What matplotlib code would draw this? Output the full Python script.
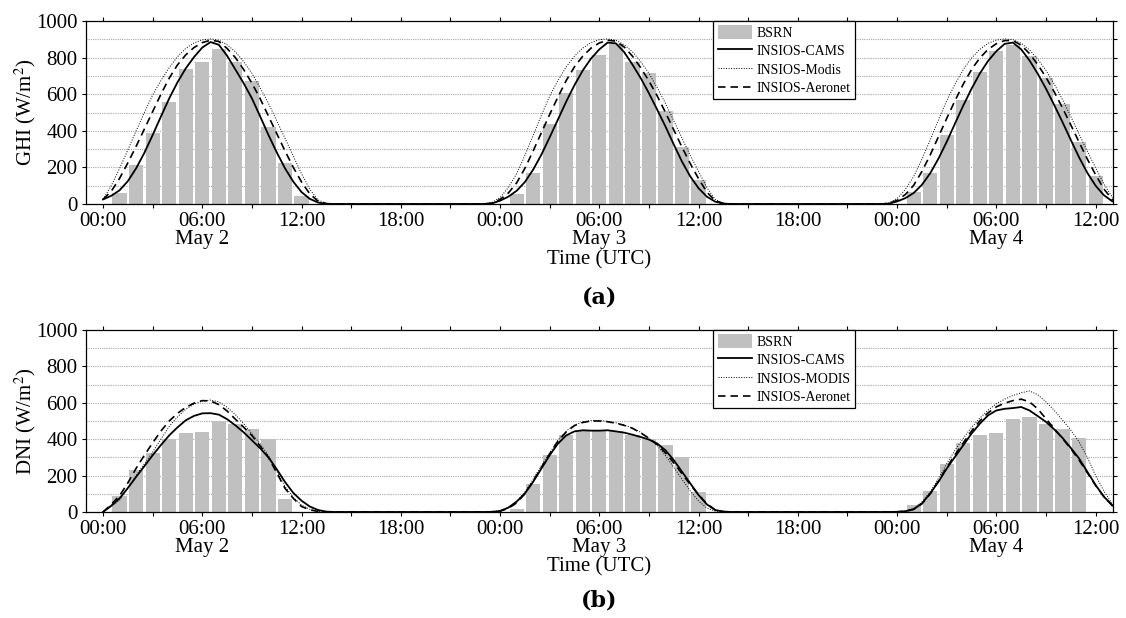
import numpy as np
import matplotlib
matplotlib.use("Agg")
import matplotlib.pyplot as plt
from matplotlib.ticker import MultipleLocator

plt.rcParams['font.family'] = ['Liberation Serif', 'DejaVu Serif']
plt.rcParams['mathtext.fontset'] = 'stix'

# ---------------- data ----------------
DAYS = ["May 2", "May 3", "May 4"]
HALF_HOURS = np.arange(-1.0, 14.01, 0.5)   # sampling times within each day (h)
nan = np.nan

# GHI model curves (W/m2), one list per day, sampled at HALF_HOURS
ghi_cams_d1 = [nan, nan, 25, 45, 75, 125, 195, 280, 377, 478, 577, 665, 741, 803, 855, 885, 870, 810, 735, 660, 577, 478, 377, 282, 195, 122, 65, 28, 8, 1, 0]
ghi_cams_d2 = [0, 3, 18, 40, 72, 120, 188, 270, 365, 462, 560, 650, 730, 795, 845, 882, 878, 830, 762, 688, 605, 515, 423, 325, 231, 150, 86, 40, 13, 2, 0]
ghi_cams_d3 = [0, 2, 14, 32, 60, 105, 168, 248, 340, 440, 538, 630, 713, 782, 835, 875, 882, 845, 785, 712, 630, 540, 447, 350, 255, 170, 100, 48, 15, 3, 0]

ghi_modis_d1 = [nan, nan, 25, 100, 195, 295, 400, 500, 596, 675, 745, 805, 850, 880, 897, 902, 895, 870, 832, 778, 714, 635, 550, 455, 359, 262, 165, 80, 22, 3, 0]
ghi_modis_d2 = [0, 8, 35, 90, 165, 265, 375, 485, 590, 675, 750, 808, 852, 882, 898, 902, 895, 870, 832, 778, 714, 635, 550, 455, 359, 265, 177, 90, 25, 4, 0]
ghi_modis_d3 = [0, 6, 30, 80, 150, 245, 350, 460, 565, 655, 735, 798, 845, 878, 896, 902, 898, 878, 842, 792, 730, 655, 570, 478, 382, 288, 198, 110, 38, 6, 0]

ghi_aero_d1 = [nan, nan, 25, 70, 140, 225, 315, 410, 505, 600, 688, 760, 815, 855, 882, 895, 888, 850, 800, 735, 660, 575, 480, 385, 290, 200, 120, 55, 15, 2, 0]
ghi_aero_d2 = [0, 4, 25, 60, 115, 195, 290, 390, 490, 585, 675, 750, 808, 852, 880, 895, 890, 858, 808, 745, 672, 590, 500, 405, 310, 220, 138, 65, 18, 3, 0]
ghi_aero_d3 = [0, 3, 20, 52, 102, 178, 268, 368, 468, 565, 655, 735, 798, 845, 876, 893, 893, 868, 822, 762, 692, 612, 525, 432, 338, 245, 160, 82, 25, 4, 0]

# DNI model curves (W/m2)
dni_cams_d1 = [nan, nan, 0, 35, 75, 132, 193, 252, 312, 368, 421, 465, 504, 528, 542, 543, 535, 510, 476, 438, 394, 350, 300, 235, 165, 105, 62, 30, 11, 2, 0]
dni_cams_d2 = [0, 1, 5, 24, 57, 102, 166, 239, 312, 376, 421, 443, 449, 447, 447, 449, 443, 436, 425, 412, 398, 376, 339, 285, 221, 157, 93, 42, 11, 2, 0]
dni_cams_d3 = [0, 0, 1, 4, 15, 47, 102, 166, 239, 303, 367, 431, 485, 531, 558, 567, 571, 577, 558, 527, 495, 454, 407, 352, 294, 221, 148, 84, 38, 5, 0]

dni_modis_d1 = [nan, nan, 0, 30, 65, 130, 200, 265, 330, 400, 470, 522, 565, 592, 610, 615, 605, 575, 535, 485, 430, 375, 310, 225, 140, 80, 38, 15, 3, 0, 0]
dni_modis_d2 = [0, 2, 8, 25, 58, 110, 180, 255, 325, 395, 445, 478, 495, 503, 503, 498, 490, 478, 462, 438, 405, 365, 310, 245, 180, 115, 60, 22, 5, 1, 0]
dni_modis_d3 = [0, 1, 2, 5, 20, 55, 110, 185, 265, 340, 405, 465, 515, 560, 595, 620, 640, 655, 665, 645, 605, 558, 505, 450, 385, 300, 200, 115, 45, 8, 0]

dni_aero_d1 = [nan, nan, 0, 42, 90, 160, 240, 312, 380, 445, 500, 542, 575, 598, 612, 610, 590, 555, 510, 466, 420, 362, 300, 215, 130, 75, 30, 12, 3, 0, 0]
dni_aero_d2 = [0, 1, 5, 20, 50, 100, 170, 245, 320, 390, 440, 475, 492, 500, 500, 496, 488, 476, 460, 435, 405, 370, 325, 270, 210, 150, 95, 45, 12, 2, 0]
dni_aero_d3 = [0, 0, 1, 4, 15, 45, 100, 170, 245, 315, 380, 445, 500, 545, 578, 598, 612, 620, 605, 567, 512, 458, 403, 348, 285, 215, 145, 85, 35, 6, 0]

# BSRN hourly measurements (bars at 01:00, 02:00, ... of each day)
ghi_bsrn_d1 = [62, 211, 390, 559, 736, 776, 845, 776, 674, 421, 224, 44]
ghi_bsrn_d2 = [55, 168, 439, 607, 732, 814, 874, 778, 718, 510, 311, 133]
ghi_bsrn_d3 = [66, 169, 377, 568, 720, 834, 869, 811, 687, 545, 341, 151]

dni_bsrn_d1 = [86, 232, 323, 400, 432, 438, 502, 484, 454, 400, 73]
dni_bsrn_d2 = [16, 155, 314, 425, 443, 443, 447, 425, 403, 370, 301, 111]
dni_bsrn_d3 = [38, 115, 266, 378, 422, 432, 511, 520, 482, 454, 409]

LABELS_A = ["BSRN", "INSIOS-CAMS", "INSIOS-Modis", "INSIOS-Aeronet"]
LABELS_B = ["BSRN", "INSIOS-CAMS", "INSIOS-MODIS", "INSIOS-Aeronet"]
YLABELS = ["GHI (W/m$^2$)", "DNI (W/m$^2$)"]
PANEL_TAGS = ["(a)", "(b)"]
XLABEL = "Time (UTC)"


def series(day_lists):
    t = np.concatenate([24 * i + HALF_HOURS for i in range(len(day_lists))])
    v = np.concatenate([np.asarray(d, dtype=float) for d in day_lists])
    return t, v


def bars(day_lists):
    t = np.concatenate([24 * i + np.arange(1, len(d) + 1) for i, d in enumerate(day_lists)])
    v = np.concatenate([np.asarray(d, dtype=float) for d in day_lists])
    return t, v


panels = [
    dict(bsrn=[ghi_bsrn_d1, ghi_bsrn_d2, ghi_bsrn_d3],
         cams=[ghi_cams_d1, ghi_cams_d2, ghi_cams_d3],
         modis=[ghi_modis_d1, ghi_modis_d2, ghi_modis_d3],
         aero=[ghi_aero_d1, ghi_aero_d2, ghi_aero_d3],
         labels=LABELS_A, ylabel=YLABELS[0], tag=PANEL_TAGS[0],
         rect=(86, 21, 1113, 204), offs=(56, 93)),
    dict(bsrn=[dni_bsrn_d1, dni_bsrn_d2, dni_bsrn_d3],
         cams=[dni_cams_d1, dni_cams_d2, dni_cams_d3],
         modis=[dni_modis_d1, dni_modis_d2, dni_modis_d3],
         aero=[dni_aero_d1, dni_aero_d2, dni_aero_d3],
         labels=LABELS_B, ylabel=YLABELS[1], tag=PANEL_TAGS[1],
         rect=(86, 330, 1113, 512), offs=(55, 89)),
]

W, H = 1126, 618
fig = plt.figure(figsize=(W / 100, H / 100), dpi=100)

tick_hours = np.arange(0, 61, 6)
tick_labels = []
for h in tick_hours:
    lab = f"{int(h % 24):02d}:00"
    if h % 24 == 6:
        lab += "\n" + DAYS[int(h // 24)]
    tick_labels.append(lab)

for p in panels:
    x0, y0, x1, y1 = p["rect"]
    ax = fig.add_axes([x0 / W, 1 - y1 / H, (x1 - x0) / W, (y1 - y0) / H])
    ax.set_axisbelow(True)

    bt, bv = bars(p["bsrn"])
    hb = ax.bar(bt, bv, width=0.86, color="#c0c0c0", edgecolor="none", zorder=2)

    t, v = series(p["cams"])
    l1, = ax.plot(t, v, color="black", lw=1.3, zorder=4)
    t, v = series(p["modis"])
    l2, = ax.plot(t, v, color="black", lw=0.7, linestyle=(0, (1, 1.6)), zorder=4)
    t, v = series(p["aero"])
    l3, = ax.plot(t, v, color="black", lw=1.2, linestyle=(0, (4.5, 3)), zorder=4)

    ax.set_xlim(-1.03, 61.05)
    ax.set_ylim(0, 1000)

    ax.set_xticks(tick_hours)
    ax.set_xticklabels(tick_labels)
    ax.xaxis.set_minor_locator(MultipleLocator(3))
    for lab in ax.get_xticklabels():
        lab.set_linespacing(0.88)
    ax.yaxis.set_major_locator(MultipleLocator(200))
    ax.yaxis.set_minor_locator(MultipleLocator(100))

    ax.tick_params(axis="both", which="both", direction="out", length=3, width=0.8,
                   top=True, right=True, labelsize=15, pad=3)
    ax.tick_params(axis="y", which="minor", left=False)

    for y in range(100, 1000, 100):
        ax.axhline(y, color="#a8a8a8", lw=0.8, linestyle=(0, (1, 1)), zorder=1)

    for s in ax.spines.values():
        s.set_linewidth(0.9)

    ax.annotate(XLABEL, xy=(0.5, 0), xycoords="axes fraction",
                xytext=(0, -p["offs"][0]), textcoords="offset pixels",
                ha="center", va="center", fontsize=15)
    ax.annotate(p["tag"], xy=(0.5, 0), xycoords="axes fraction",
                xytext=(0, -p["offs"][1]), textcoords="offset pixels",
                ha="center", va="center", fontsize=16, fontweight="bold",
                family="DejaVu Serif")

    fig.text(25 / W, 1 - ((y0 + y1) / 2) / H, p["ylabel"], rotation=90,
             ha="center", va="center", fontsize=15)

    leg = ax.legend([hb, l1, l2, l3], p["labels"], loc="upper left",
                    bbox_to_anchor=(0.611, 1.0), borderaxespad=0, fontsize=10,
                    frameon=True, fancybox=False, edgecolor="black",
                    framealpha=1, handlelength=2.5, handleheight=1.1,
                    handletextpad=0.3, labelspacing=0.3, borderpad=0.3)
    leg.get_frame().set_linewidth(0.9)
    leg.set_zorder(10)

fig.savefig("out.png", dpi=100)
